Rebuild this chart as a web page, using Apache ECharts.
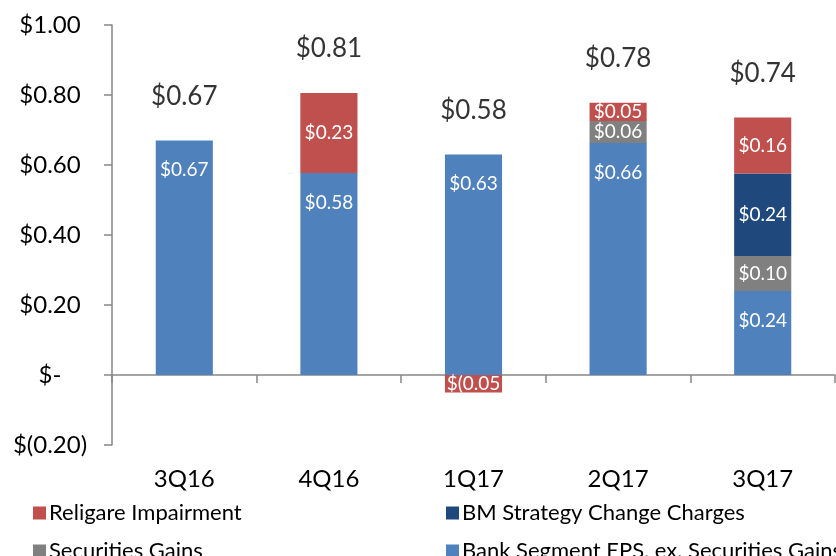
<!DOCTYPE html>
<html>
<head>
<meta charset="utf-8">
<script src="https://cdn.jsdelivr.net/npm/echarts@6/dist/echarts.min.js"></script>
<style>
  html, body { margin: 0; padding: 0; background: #fff; }
  #chart { width: 836px; height: 556px; }
</style>
</head>
<body>
<div id="chart"></div>
<script>
const categories = ['3Q16', '4Q16', '1Q17', '2Q17', '3Q17']
const bankEps = [0.67, 0.577, 0.63, 0.663, 0.24]
const securitiesGains = [null, null, null, 0.063, 0.10]
const bmCharges = [null, null, null, null, 0.236]
const religare = [null, 0.229, -0.05, 0.052, 0.16]
const totals = [0.67, 0.81, 0.58, 0.78, 0.74]
const yTicks = [-0.2, 0, 0.2, 0.4, 0.6, 0.8, 1.0]

const FONT = 'Lato, "Open Sans", sans-serif'

const money = v => {
  if (v === 0) return '$-'
  if (v < 0) return '$(' + (-v).toFixed(2) + ')'
  return '$' + v.toFixed(2)
}

// top of the positive part of each stack, where the total label sits
const stackTop = categories.map((_, i) =>
  [bankEps, securitiesGains, bmCharges, religare]
    .map(s => s[i])
    .filter(v => v != null && v > 0)
    .reduce((a, b) => a + b, 0)
)

const segLabel = (pos, dist) => ({
  show: true,
  position: pos,
  distance: dist,
  color: '#fff',
  fontSize: 19,
  fontFamily: FONT,
  width: 57,
  overflow: 'truncate',
  ellipsis: '',
  formatter: p => money(p.value)
})

const chart = echarts.init(document.getElementById('chart'))

const legendItem = (name, left, top) => ({
  data: [name],
  left: left,
  top: top,
  icon: 'rect',
  itemWidth: 13,
  itemHeight: 13,
  selectedMode: false,
  textStyle: { fontSize: 22, fontFamily: FONT, color: '#000', padding: [0, 0, 0, -2] }
})

chart.setOption({
  backgroundColor: '#fff',
  animation: false,
  grid: { left: 112, right: 1, top: 25, bottom: 111 },
  legend: [
    legendItem('Religare Impairment', 28, 497),
    legendItem('BM Strategy Change Charges', 441, 497),
    legendItem('Securities Gains', 28, 535),
    legendItem('Bank Segment EPS, ex. Securities Gains', 441, 535)
  ],
  xAxis: [
    {
      type: 'category',
      data: categories,
      axisLine: { onZero: true, lineStyle: { color: '#868686', width: 1.5 } },
      axisTick: { show: true, length: 8, lineStyle: { color: '#868686', width: 1.5 } },
      axisLabel: { show: false }
    },
    {
      type: 'category',
      data: categories,
      position: 'bottom',
      axisLine: { show: false },
      axisTick: { show: false },
      axisLabel: { margin: 22, fontSize: 24, fontFamily: FONT, color: '#000' }
    }
  ],
  yAxis: {
    type: 'value',
    min: yTicks[0],
    max: yTicks[yTicks.length - 1],
    interval: 0.2,
    axisLine: { show: true, lineStyle: { color: '#868686', width: 1.5 } },
    axisTick: { show: true, length: 8, lineStyle: { color: '#868686', width: 1.5 } },
    splitLine: { show: false },
    axisLabel: {
      margin: 62,
      align: 'center',
      fontSize: 24,
      fontFamily: FONT,
      color: '#000',
      formatter: v => money(Math.round(v * 100) / 100)
    }
  },
  series: [
    {
      name: 'Bank Segment EPS, ex. Securities Gains',
      type: 'bar',
      stack: 'eps',
      barWidth: '39.5%',
      data: bankEps,
      itemStyle: { color: '#4F81BD' },
      label: segLabel('insideTop', 20)
    },
    {
      name: 'Securities Gains',
      type: 'bar',
      stack: 'eps',
      data: securitiesGains,
      itemStyle: { color: '#808080' },
      label: segLabel('inside')
    },
    {
      name: 'BM Strategy Change Charges',
      type: 'bar',
      stack: 'eps',
      data: bmCharges,
      itemStyle: { color: '#1F497D' },
      label: segLabel('inside')
    },
    {
      name: 'Religare Impairment',
      type: 'bar',
      stack: 'eps',
      data: religare,
      itemStyle: { color: '#C0504D' },
      label: segLabel('inside')
    },
    {
      name: 'total',
      type: 'scatter',
      symbolSize: 0,
      data: stackTop,
      silent: true,
      label: {
        show: true,
        position: 'top',
        distance: 31,
        fontSize: 26,
        fontFamily: FONT,
        color: '#000',
        formatter: p => money(totals[p.dataIndex])
      }
    }
  ]
})
</script>
</body>
</html>
